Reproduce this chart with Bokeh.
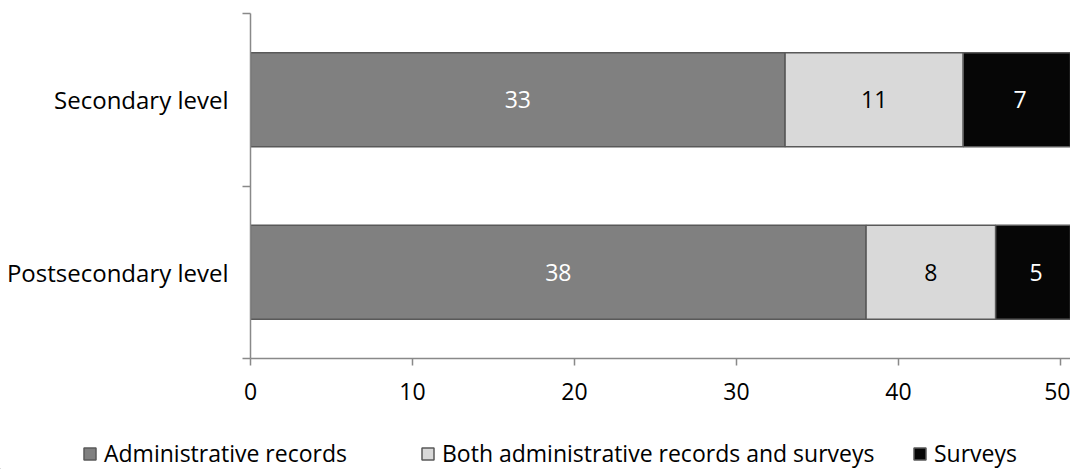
from bokeh.plotting import figure
from bokeh.models import Range1d, FixedTicker, Legend, LegendItem, ColumnDataSource
from bokeh.layouts import column
from bokeh.core.properties import value
from bokeh.embed import file_html
from bokeh.resources import INLINE

categories = ["Secondary level", "Postsecondary level"]
cat_pos = [1.5, 0.5]
admin = [33, 38]
both = [11, 8]
surveys = [7, 5]
series_names = ["Administrative records", "Both administrative records and surveys", "Surveys"]
series_colors = ["#808080", "#d9d9d9", "#060606"]
label_colors = ["white", "black", "white"]
x_ticks = [0, 10, 20, 30, 40, 50]

FONT = "Open Sans"
FS = "23px"

p = figure(width=1070, height=430, output_backend="svg", toolbar_location=None,
           x_range=Range1d(0, 50.62), y_range=Range1d(0, 2),
           min_border_left=250, min_border_right=0, min_border_top=13, min_border_bottom=72)
p.frame_align = False
p.outline_line_color = None
p.xgrid.visible = False
p.ygrid.visible = False
p.background_fill_color = "white"
p.border_fill_color = "white"

series = [admin, both, surveys]
lefts = [0, 0]
for vals, col, lcol in zip(series, series_colors, label_colors):
    rights = [l + v for l, v in zip(lefts, vals)]
    src = ColumnDataSource(dict(y=cat_pos, left=lefts, right=rights,
                                mid=[(l + r) / 2 for l, r in zip(lefts, rights)],
                                txt=[str(v) for v in vals]))
    p.hbar(y="y", left="left", right="right", height=0.545, source=src,
           fill_color=col, line_color="#595959", line_width=1.5)
    p.text(x="mid", y="y", text="txt", source=src, text_align="center", text_baseline="middle",
           text_color=lcol, text_font=value(FONT), text_font_size=FS)
    lefts = rights

# x axis
xa = p.xaxis[0]
xa.ticker = FixedTicker(ticks=x_ticks, minor_ticks=[])
xa.axis_line_color = "#898989"
xa.axis_line_width = 1.5
xa.major_tick_line_color = "#898989"
xa.major_tick_line_width = 1.5
xa.major_tick_in = 0
xa.major_tick_out = 7
xa.minor_tick_line_color = None
xa.major_label_text_font = FONT
xa.major_label_text_font_size = FS
xa.major_label_text_color = "black"
xa.major_label_standoff = 17

# y axis
ya = p.yaxis[0]
ya.ticker = FixedTicker(ticks=cat_pos, minor_ticks=[0, 1, 2])
ya.major_label_overrides = {pos: c for pos, c in zip(cat_pos, categories)}
ya.axis_line_color = "#898989"
ya.axis_line_width = 1.5
ya.major_tick_line_color = None
ya.major_tick_in = 0
ya.major_tick_out = 0
ya.minor_tick_line_color = "#898989"
ya.minor_tick_line_width = 1.5
ya.minor_tick_in = 0
ya.minor_tick_out = 8
ya.major_label_text_font = FONT
ya.major_label_text_font_size = "24px"
ya.major_label_text_color = "black"
ya.major_label_standoff = 14

# legend strip
lp = figure(width=1070, height=39, output_backend="svg", toolbar_location=None,
            x_range=Range1d(0, 1), y_range=Range1d(0, 1),
            min_border=0, min_border_left=0, min_border_right=0, min_border_top=0, min_border_bottom=0)
lp.frame_align = False
lp.axis.visible = False
lp.grid.visible = False
lp.outline_line_color = None
lp.background_fill_color = "white"
lp.border_fill_color = "white"

leg_x = [82, 420, 912]
for name, col, lx in zip(series_names, series_colors, leg_x):
    r = lp.hbar(y=[-10], left=[-10], right=[-9], height=0.5,
                fill_color=col, line_color="#595959", line_width=1.5)
    lg = Legend(items=[LegendItem(label=name, renderers=[r])], location=(lx, 0),
                orientation="horizontal", glyph_width=15, glyph_height=15,
                label_standoff=7, padding=0, margin=0, spacing=0,
                border_line_color=None, background_fill_alpha=0,
                label_text_font=FONT, label_text_font_size=FS, label_text_color="black")
    lp.add_layout(lg, "center")

layout = column(p, lp, spacing=0)
open("out.html", "w").write(file_html(layout, INLINE))
